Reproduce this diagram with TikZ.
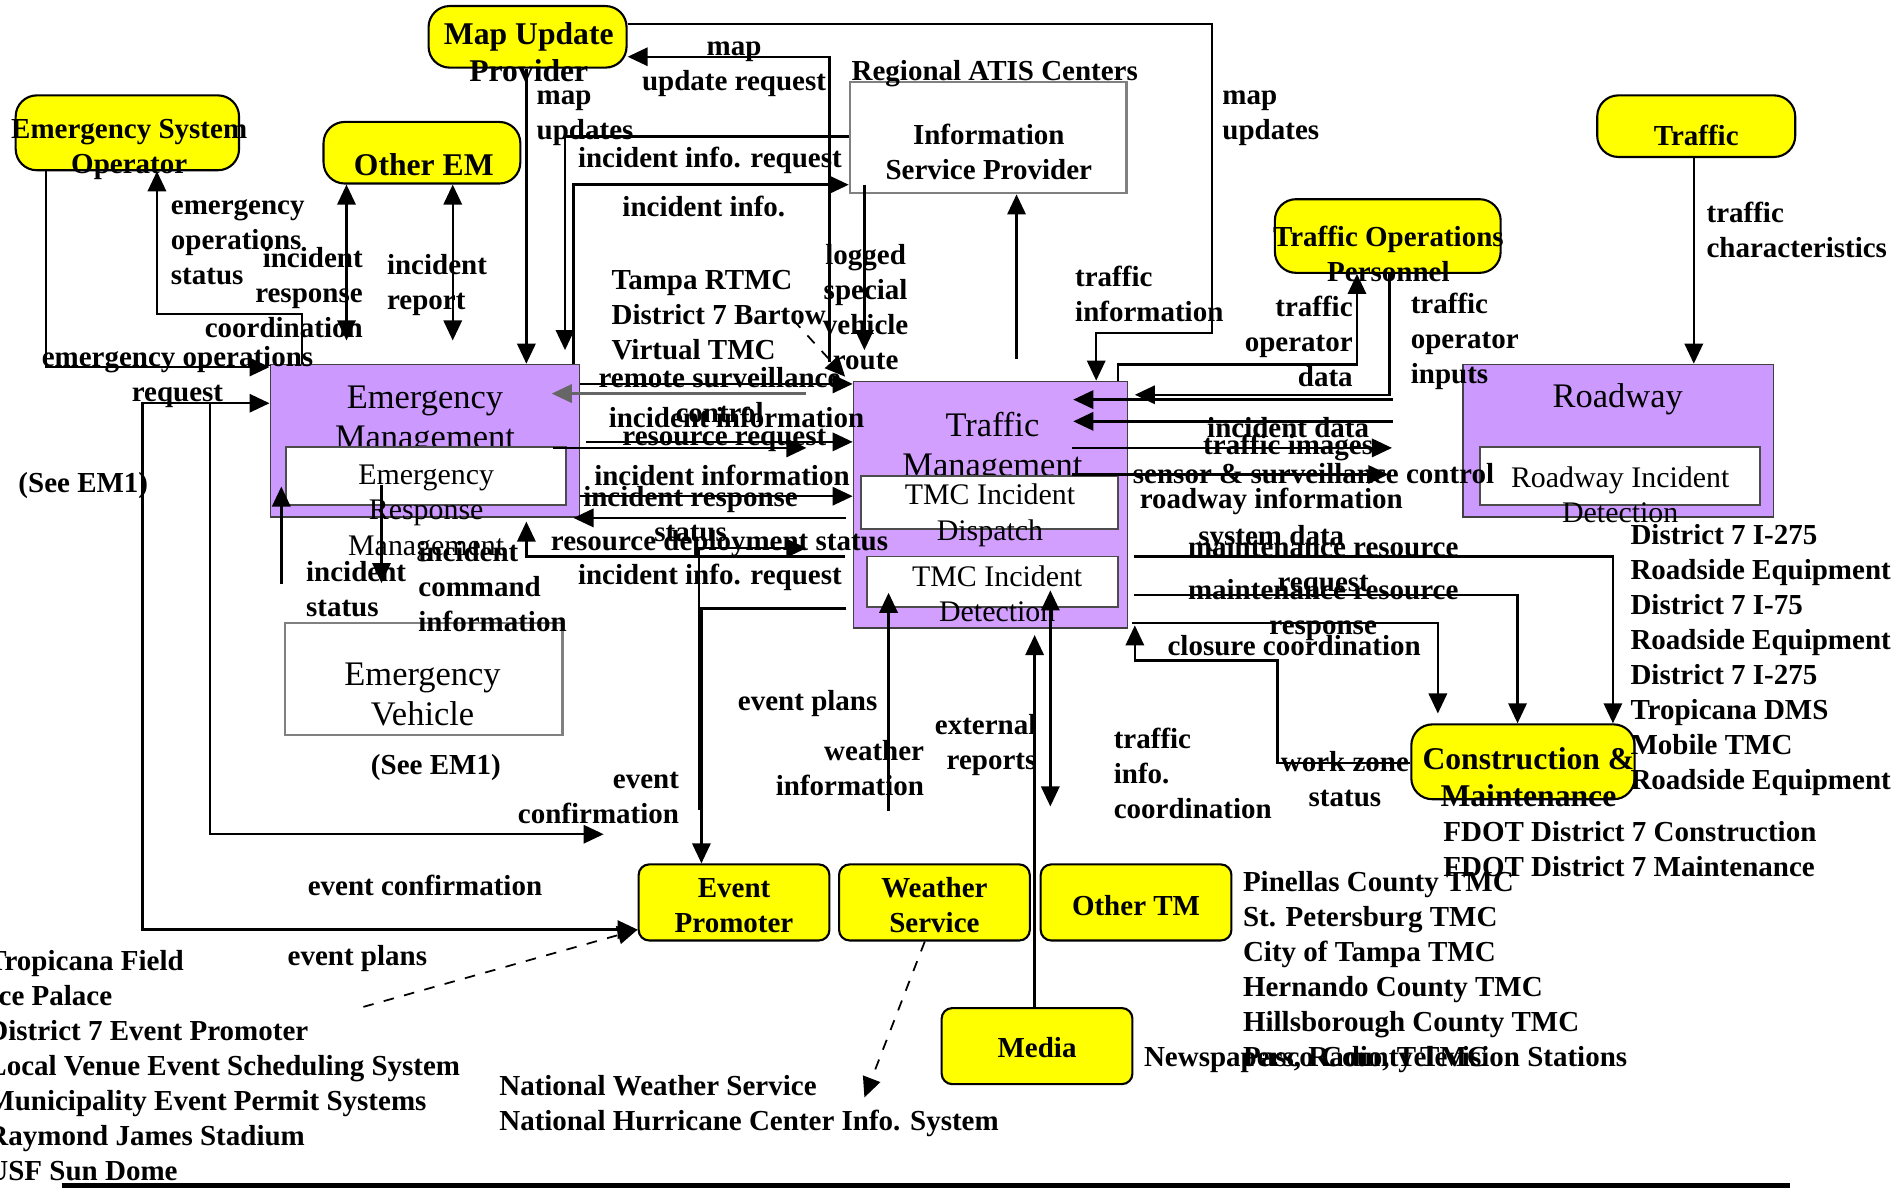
\documentclass[tikz,border=0pt]{standalone}
\usepackage{fontspec}
\setmainfont{Liberation Serif}
\usetikzlibrary{arrows.meta,fit}

\begin{document}
\begin{tikzpicture}[
    x=0.012073cm,
    y=-0.012073cm,
    line join=miter,
    >={Triangle[length=5.7pt,width=5.2pt]},
]
\definecolor{cmYellow}{HTML}{FFFF00}
\definecolor{cmPurple}{HTML}{CC99FF}
\definecolor{cmLilac}{HTML}{D29FFF}
\definecolor{cmGrey}{HTML}{808080}

\tikzset{
    ybox/.style={draw=black,fill=cmYellow,rounded corners=6pt,line width=0.6pt,inner sep=0pt},
    ysbox/.style={ybox,rounded corners=3pt},
    pbox/.style={draw=black!75,fill=cmPurple,line width=0.5pt,inner sep=0pt},
    wbox/.style={draw=black!70,fill=white,line width=0.5pt,inner sep=0pt},
    gbox/.style={draw=cmGrey,fill=white,line width=0.7pt,inner sep=0pt},
    flow/.style={draw=black,line width=0.7pt,->},
    dflow/.style={flow,dashed},
    lbl/.style={font=\bfseries\fontsize{8.25}{9.96}\selectfont,inner sep=0pt,align=center},
    lbll/.style={lbl,align=left,anchor=west},
    lblr/.style={lbl,align=right,anchor=east},
    ybig/.style={font=\bfseries\fontsize{9}{10.6}\selectfont,inner sep=0pt,align=center},
    ttl/.style={font=\fontsize{9.8}{11.4}\selectfont,inner sep=0pt,align=center},
    sub/.style={font=\fontsize{8.5}{10.1}\selectfont,inner sep=0pt,align=center},
}

\useasboundingbox (0,0) rectangle (1568,985);

% terminators
\node[ybox,fit={(355,5) (519,56)}] (mup) {};
\node[ybox,fit={(13,79) (198,141)}] (eso) {};
\node[ybox,fit={(268,101) (431,152)}] (oem) {};
\node[ybox,fit={(1323,79) (1487,130)}] (trf) {};
\node[ybox,fit={(1056,165) (1243,226)}] (top) {};
\node[ybox,fit={(1169,600) (1354,662)}] (conm) {};
\node[ysbox,fit={(529,716) (687,779)}] (ep) {};
\node[ysbox,fit={(695,716) (853,779)}] (ws) {};
\node[ysbox,fit={(862,716) (1020,779)}] (otm) {};
\node[ysbox,fit={(780,835) (938,898)}] (med) {};

\node[ybig] (tMup) at (438,43) {Map Update\\Provider};
\node[lbl] (tEso) at (107,123.5) {Emergency System\\Operator};
\node[ybig] (tOem) at (351,136) {Other EM};
\node[lbl] (tTrf) at (1405,112) {Traffic};
\node[lbl] (tTop) at (1150,210) {Traffic Operations\\Personnel};
\node[ybig] (tConm) at (1266,644) {Construction \&\\Maintenance};
\node[lbl] (tEp) at (608,750) {Event\\Promoter};
\node[lbl] (tWs) at (774,750) {Weather\\Service};
\node[lbl] (tOtm) at (941,750) {Other TM};
\node[lbl] (tMed) at (859,868) {Media};

% subsystems
\node[pbox,fit={(224,302) (480,428)}] (em) {};
\node[ttl] (tEm) at (352,349) {Emergency\\Management};
\node[wbox,fit={(237,370) (469,418)}] (erm) {};
\node[sub] (tErm) at (353,425) {Emergency\\Response\\Management};

\node[pbox,fill=cmLilac,fit={(707,316) (934,520)}] (tm) {};
\node[ttl] (tTm) at (822,371) {Traffic\\Management};
\node[wbox,fit={(713,394) (926,438)}] (tmcdisp) {};
\node[sub] (tDisp) at (820,427) {TMC Incident\\Dispatch};
\node[wbox,fit={(718,461) (926,503)}] (tmcdet) {};
\node[sub] (tDet) at (826,492) {TMC Incident\\Detection};

\node[pbox,fit={(1212,302) (1469,428)}] (rdw) {};
\node[ttl] (tRdw) at (1340,331) {Roadway};
\node[wbox,fit={(1226,370) (1458,418)}] (rdwdet) {};
\node[sub] (tRdwDet) at (1342,410) {Roadway Incident\\Detection};

\node[gbox,fit={(704,68) (933,160)}] (isp) {};
\node[lbl] (tIsp) at (819,125.5) {Information\\Service Provider};
\node[gbox,fit={(236,516) (466,609)}] (ev) {};
\node[ttl] (tEv) at (350,575) {Emergency\\Vehicle};

% instances
\node[lbl] (atis) at (824,61) {Regional ATIS Centers};
\node[lbl] (seeA) at (69,402) {(See EM1)};
\node[lbl] (seeB) at (361,636) {(See EM1)};
\node[lbll] (tampa) at (506,261) {Tampa RTMC\\District 7 Bartow\\Virtual TMC};
\node[lbll] (rse) at (1350,547) {District 7 I-275\\Roadside Equipment\\District 7 I-75\\Roadside Equipment\\District 7 I-275\\Tropicana DMS\\Mobile TMC\\Roadside Equipment};
\node[lbll] (fdot) at (1195,703.5) {FDOT District 7 Construction\\FDOT District 7 Maintenance};
\node[lbll] (tmcs) at (1029,805) {Pinellas County TMC\\St. Petersburg TMC\\City of Tampa TMC\\Hernando County TMC\\Hillsborough County TMC\\Pasco County TMC};
\node[lbll] (news) at (947,878) {Newspapers, Radio, Television Stations};
\node[lbll] (venues) at (-11,883) {Tropicana Field\\Ice Palace\\District 7 Event Promoter\\Local Venue Event Scheduling System\\Municipality Event Permit Systems\\Raymond James Stadium\\USF Sun Dome};
\node[lbll] (nws) at (413,916.5) {National Weather Service\\National Hurricane Center Info. System};

% flow labels
\node[lbl] (fMapReq) at (608,57) {map\\update request};
\node[lbll] (fMapUpdA) at (444,98) {map\\updates};
\node[lbl] (fInfoReqA) at (588,133) {incident info. request};
\node[lbl] (fInfoA) at (583,171) {incident info.};
\node[lbll] (fMapUpdB) at (1012,98) {map\\updates};
\node[lbll] (fEmStat) at (141,201) {emergency\\operations\\status};
\node[lblr] (fRespCo) at (301,242) {incident\\response\\coordination};
\node[lbll] (fRep) at (320,236) {incident\\report};
\node[lbl] (fEmReq) at (147,312) {emergency operations\\request};
\node[lbl] (fLogged) at (717,254.5) {logged\\special\\vehicle\\route};
\node[lbll] (fTrfInfo) at (890,243.5) {traffic\\information};
\node[lblr] (fOpData) at (1121,282.5) {traffic\\operator\\data};
\node[lbll] (fOpIn) at (1168,282.5) {traffic\\operator\\inputs};
\node[lbll] (fTrfChar) at (1413,190.5) {traffic\\characteristics};
\node[lbl] (fRemote) at (596,327.5) {remote surveillance\\control};
\node[lbl] (fIncInfA) at (610,346) {incident information};
\node[lbl] (fResReq) at (600,365) {resource request};
\node[lbl] (fIncInfB) at (598,394) {incident information};
\node[lbl] (fRespStat) at (572,425.5) {incident response\\status};
\node[lbl] (fDeploy) at (596,450) {resource deployment status};
\node[lbl] (fInfoReqB) at (588,478) {incident info. request};
\node[lbll] (fCmd) at (346,486) {incident\\command\\information};
\node[lbll] (fIncStat) at (253,488) {incident\\status};
\node[lbl] (fPlansA) at (669,583) {event plans};
\node[lblr] (fWeather) at (766,636.5) {weather\\information};
\node[lblr] (fExt) at (859,617) {external\\reports};
\node[lblr] (fConfA) at (563,661) {event\\confirmation};
\node[lbl] (fConfB) at (352,733) {event confirmation};
\node[lbl] (fPlansB) at (296,794) {event plans};
\node[lbll] (fTrfCo) at (922,640.5) {traffic\\info.\\coordination};
\node[lbl] (fIncData) at (1067,354) {incident data};
\node[lbl] (fImages) at (1067,371) {traffic images};
\node[lbl] (fSensor) at (1088,392) {sensor \& surveillance control};
\node[lbl] (fRdwInfo) at (1053,415) {roadway information};
\node[lbl] (fSysData) at (1053,446) {system data};
\node[lbl] (fMaintReq) at (1096,470) {maintenance resource\\request};
\node[lbl] (fMaintResp) at (1096,505.5) {maintenance resource\\response};
\node[lbl] (fClosure) at (1072,535) {closure coordination};
\node[lbl] (fWorkZone) at (1114,645.5) {work zone\\status};

% free ends
\coordinate (mapReqEnd) at (687,300);
\coordinate (infoEnd) at (468,290);
\coordinate (routeEnd) at (716,290);
\coordinate (trfInfoEnd) at (842,297);
\coordinate (bartow) at (657,265);
\coordinate (bartowEnd) at (700,312);
\coordinate (coEnd) at (287,282);
\coordinate (repEnd) at (375,282);
\coordinate (confEnd) at (500,691);
\coordinate (statEnd) at (233,484);
\coordinate (cmdEnd) at (316,483);
\coordinate (ctrlEnd) at (668,326);
\coordinate (resEnd) at (668,371);
\coordinate (plansEnd) at (579,671);
\coordinate (depEnd) at (668,454);
\coordinate (rdwInA) at (1154,331);
\coordinate (rdwInB) at (1154,349);
\coordinate (rdwOutA) at (1153,371);
\coordinate (rdwOutB) at (1150,393);
\coordinate (closeEnd) at (1191,591);
\coordinate (wxEnd) at (736,672);
\coordinate (extEnd) at (870,668);
\coordinate (nwsEnd) at (716,909);
\coordinate (venueEnd) at (301,834);

% flows
\draw[flow] (mup.east |- 0,20) -- (1004,20) -- (1004,276) -- (908,276) -- (908,0 |- tm.north);
\draw[flow] (mapReqEnd) -- (687,47) -- (mup.east |- 0,47);
\draw[flow] (436,0 |- mup.south) -- (436,0 |- em.north);
\draw[flow] (isp.west |- 0,113) -- (468,113) -- (infoEnd);
\draw[flow] (475,0 |- em.north) -- (475,153) -- (isp.west |- 0,153);
\draw[flow] (716,153) -- (routeEnd);
\draw[flow] (trfInfoEnd) -- (842,0 |- isp.south);
\draw[dflow,line width=0.5pt] (bartow) -- (bartowEnd);

\draw[flow] (38,0 |- eso.south) -- (38,304) -- (em.west |- 0,304);
\draw[flow] (250,0 |- em.north) -- (250,260) -- (130,260) -- (130,0 |- eso.south);
\draw[flow,<->] (287,0 |- oem.south) -- (coEnd);
\draw[flow,<->] (375,0 |- oem.south) -- (repEnd);
\draw[flow,<->] (ep.west |- 0,770) -- (118,770) -- (118,334) -- (em.west |- 0,334);
\draw[flow] (174,334) -- (174,691) -- (confEnd);
\draw[flow] (statEnd) -- (233,403);
\draw[flow] (316,402) -- (cmdEnd);

\draw[flow] (em.east |- 0,318) -- (tm.west |- 0,318);
\draw[flow,draw=black!60] (ctrlEnd) -- (457,326);
\draw[flow] (485,366) -- (tm.west |- 0,366);
\draw[flow] (458,371) -- (resEnd);
\draw[flow] (em.east |- 0,411) -- (tm.west |- 0,411);
\draw[flow] (701,429) -- (475,429);
\draw[flow] (plansEnd) -- (579,454) -- (depEnd);
\draw[flow] (700,461) -- (436,461) -- (436,432);
\draw[flow] (701,504) -- (581,504) -- (581,0 |- ep.north);

\draw[flow] (926,0 |- tm.north) -- (926,302) -- (1124,302) -- (1124,0 |- top.south);
\draw[flow] (1151,0 |- top.south) -- (1151,327) -- (940,327);
\draw[flow] (rdwInA) -- (889,331);
\draw[flow] (rdwInB) -- (889,349);
\draw[flow] (888,371) -- (rdwOutA);
\draw[flow] (888,393) -- (rdwOutB);
\draw[flow] (939,461) -- (1336,461) -- (1336,0 |- conm.north);
\draw[flow] (939,493) -- (1257,493) -- (1257,0 |- conm.north);
\draw[flow] (938,516) -- (1191,516) -- (closeEnd);
\draw[flow] (conm.west |- 0,632) -- (1058,632) -- (1058,547) -- (940,547) -- (940,518);
\draw[flow] (1403,0 |- trf.south) -- (1403,0 |- rdw.north);

\draw[flow] (wxEnd) -- (736,491);
\draw[flow] (857,0 |- med.north) -- (857,526);
\draw[flow,<->] (870,489) -- (extEnd);
\draw[dflow,line width=0.5pt] (766,0 |- ws.south) -- (nwsEnd);
\draw[dflow,line width=0.5pt] (venueEnd) -- (ep.west |- 0,770);

\draw[line width=1.2pt] (51,982) -- (1483,982);
\end{tikzpicture}
\end{document}
